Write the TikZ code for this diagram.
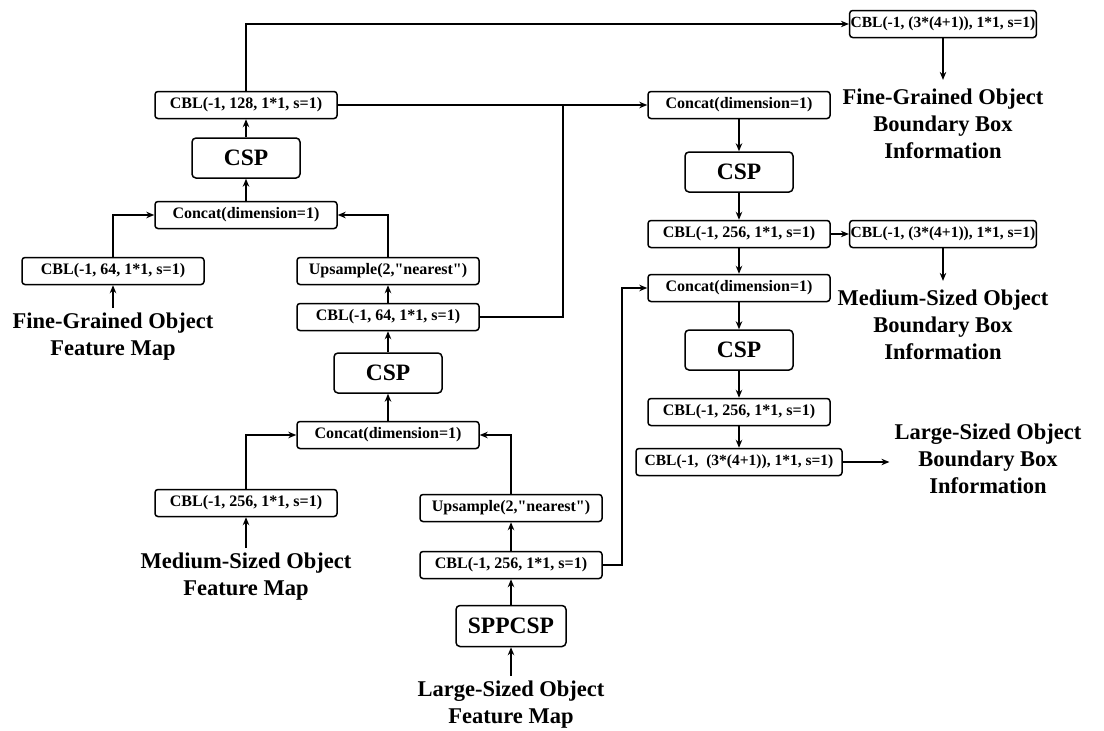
\documentclass[tikz,border=0pt]{standalone}
\usepackage{fontspec}
\setmainfont{Liberation Serif}[Ligatures=TeXOff]
\usetikzlibrary{arrows.meta}

\tikzset{
  blk/.style={draw, line width=1.5pt, rounded corners=3pt, fill=white,
    minimum width=182pt, minimum height=27pt, inner xsep=1.5pt, inner ysep=1pt,
    font=\bfseries\fontsize{16}{18}\selectfont},
  headblk/.style={blk, minimum width=184pt, inner xsep=1pt,
    font=\bfseries\fontsize{15.5}{18}\selectfont},
  bigblk/.style={draw, line width=1.5pt, rounded corners=4pt, fill=white,
    minimum width=108pt, minimum height=40pt, inner sep=2pt,
    font=\bfseries\fontsize{23.5}{26}\selectfont},
  lbl/.style={align=center, inner sep=5pt,
    font=\bfseries\fontsize{22.5}{27}\selectfont},
  arr/.style={line width=1.3pt, -{Stealth[length=8pt,width=6.5pt]}},
  ln/.style={line width=1.3pt},
}

\begin{document}
\begin{tikzpicture}[x=1pt, y=-1pt]
\useasboundingbox (0,0) rectangle (1104,731);

% left / middle branch (bottom-up path)
\node[blk] (cbl128) at (246,105) {CBL(-1, 128, 1*1, s=1)};
\node[bigblk] (csp1) at (246,158) {CSP};
\node[blk] (cat1) at (246,215) {Concat(dimension=1)};
\node[blk] (cbl64a) at (113,271) {CBL(-1, 64, 1*1, s=1)};
\node[blk] (ups1) at (388,271) {Upsample(2,"nearest")};
\node[blk] (cbl64b) at (388,317) {CBL(-1, 64, 1*1, s=1)};
\node[bigblk] (csp2) at (388,373) {CSP};
\node[blk] (cat2) at (388,435) {Concat(dimension=1)};
\node[blk] (cbl256a) at (246,503) {CBL(-1, 256, 1*1, s=1)};
\node[blk] (ups2) at (511,508) {Upsample(2,"nearest")};
\node[blk] (cbl256b) at (511,565) {CBL(-1, 256, 1*1, s=1)};
\node[bigblk, minimum width=110pt, minimum height=41pt] (spp) at (511,626) {SPPCSP};

% right branch (top-down path)
\node[blk] (cat3) at (739,105) {Concat(dimension=1)};
\node[bigblk] (csp3) at (739,172) {CSP};
\node[blk] (cbl256c) at (739,234) {CBL(-1, 256, 1*1, s=1)};
\node[blk] (cat4) at (739,288) {Concat(dimension=1)};
\node[bigblk] (csp4) at (739,350) {CSP};
\node[blk] (cbl256d) at (739,412) {CBL(-1, 256, 1*1, s=1)};
\node[headblk, minimum width=206pt] (cblL) at (739,462) {CBL(-1,\ \ (3*(4+1)), 1*1, s=1)};

% detection heads
\node[headblk] (headS) at (943,24) {CBL(-1, (3*(4+1)), 1*1, s=1)};
\node[headblk] (headM) at (943,234) {CBL(-1, (3*(4+1)), 1*1, s=1)};

% input feature maps
\node[lbl] (fineIn) at (113,337) {Fine-Grained Object\\Feature Map};
\node[lbl] (medIn) at (246,577) {Medium-Sized Object\\Feature Map};
\node[lbl] (largeIn) at (511,705) {Large-Sized Object\\Feature Map};

% outputs
\node[lbl, inner sep=9pt] (fineOut) at (943,124) {Fine-Grained Object\\Boundary Box\\Information};
\node[lbl, inner sep=9pt] (medOut) at (943,325) {Medium-Sized Object\\Boundary Box\\Information};
\node[lbl] (largeOut) at (988,459) {Large-Sized Object\\Boundary Box\\Information};

% junction points of the routed lines
\coordinate (j1) at (563,105);
\coordinate (j2) at (622,288);

% inputs into the first blocks
\draw[arr] (fineIn.north) -- (cbl64a.south);
\draw[arr] (medIn.north) -- (cbl256a.south);
\draw[arr] (largeIn.north) -- (spp.south);

% upward flow
\draw[arr] (spp.north) -- (cbl256b.south);
\draw[arr] (cbl256b.north) -- (ups2.south);
\draw[arr] (cbl256a.north) |- (cat2.west);
\draw[arr] (ups2.north) |- (cat2.east);
\draw[arr] (cat2.north) -- (csp2.south);
\draw[arr] (csp2.north) -- (cbl64b.south);
\draw[arr] (cbl64b.north) -- (ups1.south);
\draw[arr] (cbl64a.north) |- (cat1.west);
\draw[arr] (ups1.north) |- (cat1.east);
\draw[arr] (cat1.north) -- (csp1.south);
\draw[arr] (csp1.north) -- (cbl128.south);

% lateral links
\draw[arr] (cbl128.north) |- (headS.west);
\draw[arr] (cbl128.east) -- (cat3.west);
\draw[ln] (cbl64b.east) -| (j1);
\draw[arr] (cbl256b.east) -| (j2) -- (cat4.west);
\draw[arr] (cbl256c.east) -- (headM.west);

% downward flow
\draw[arr] (cat3.south) -- (csp3.north);
\draw[arr] (csp3.south) -- (cbl256c.north);
\draw[arr] (cbl256c.south) -- (cat4.north);
\draw[arr] (cat4.south) -- (csp4.north);
\draw[arr] (csp4.south) -- (cbl256d.north);
\draw[arr] (cbl256d.south) -- (cblL.north);

% outputs
\draw[arr] (headS.south) -- (fineOut.north);
\draw[arr] (headM.south) -- (medOut.north);
\draw[arr] (cblL.east) -- (cblL.east -| largeOut.west);
\end{tikzpicture}
\end{document}
